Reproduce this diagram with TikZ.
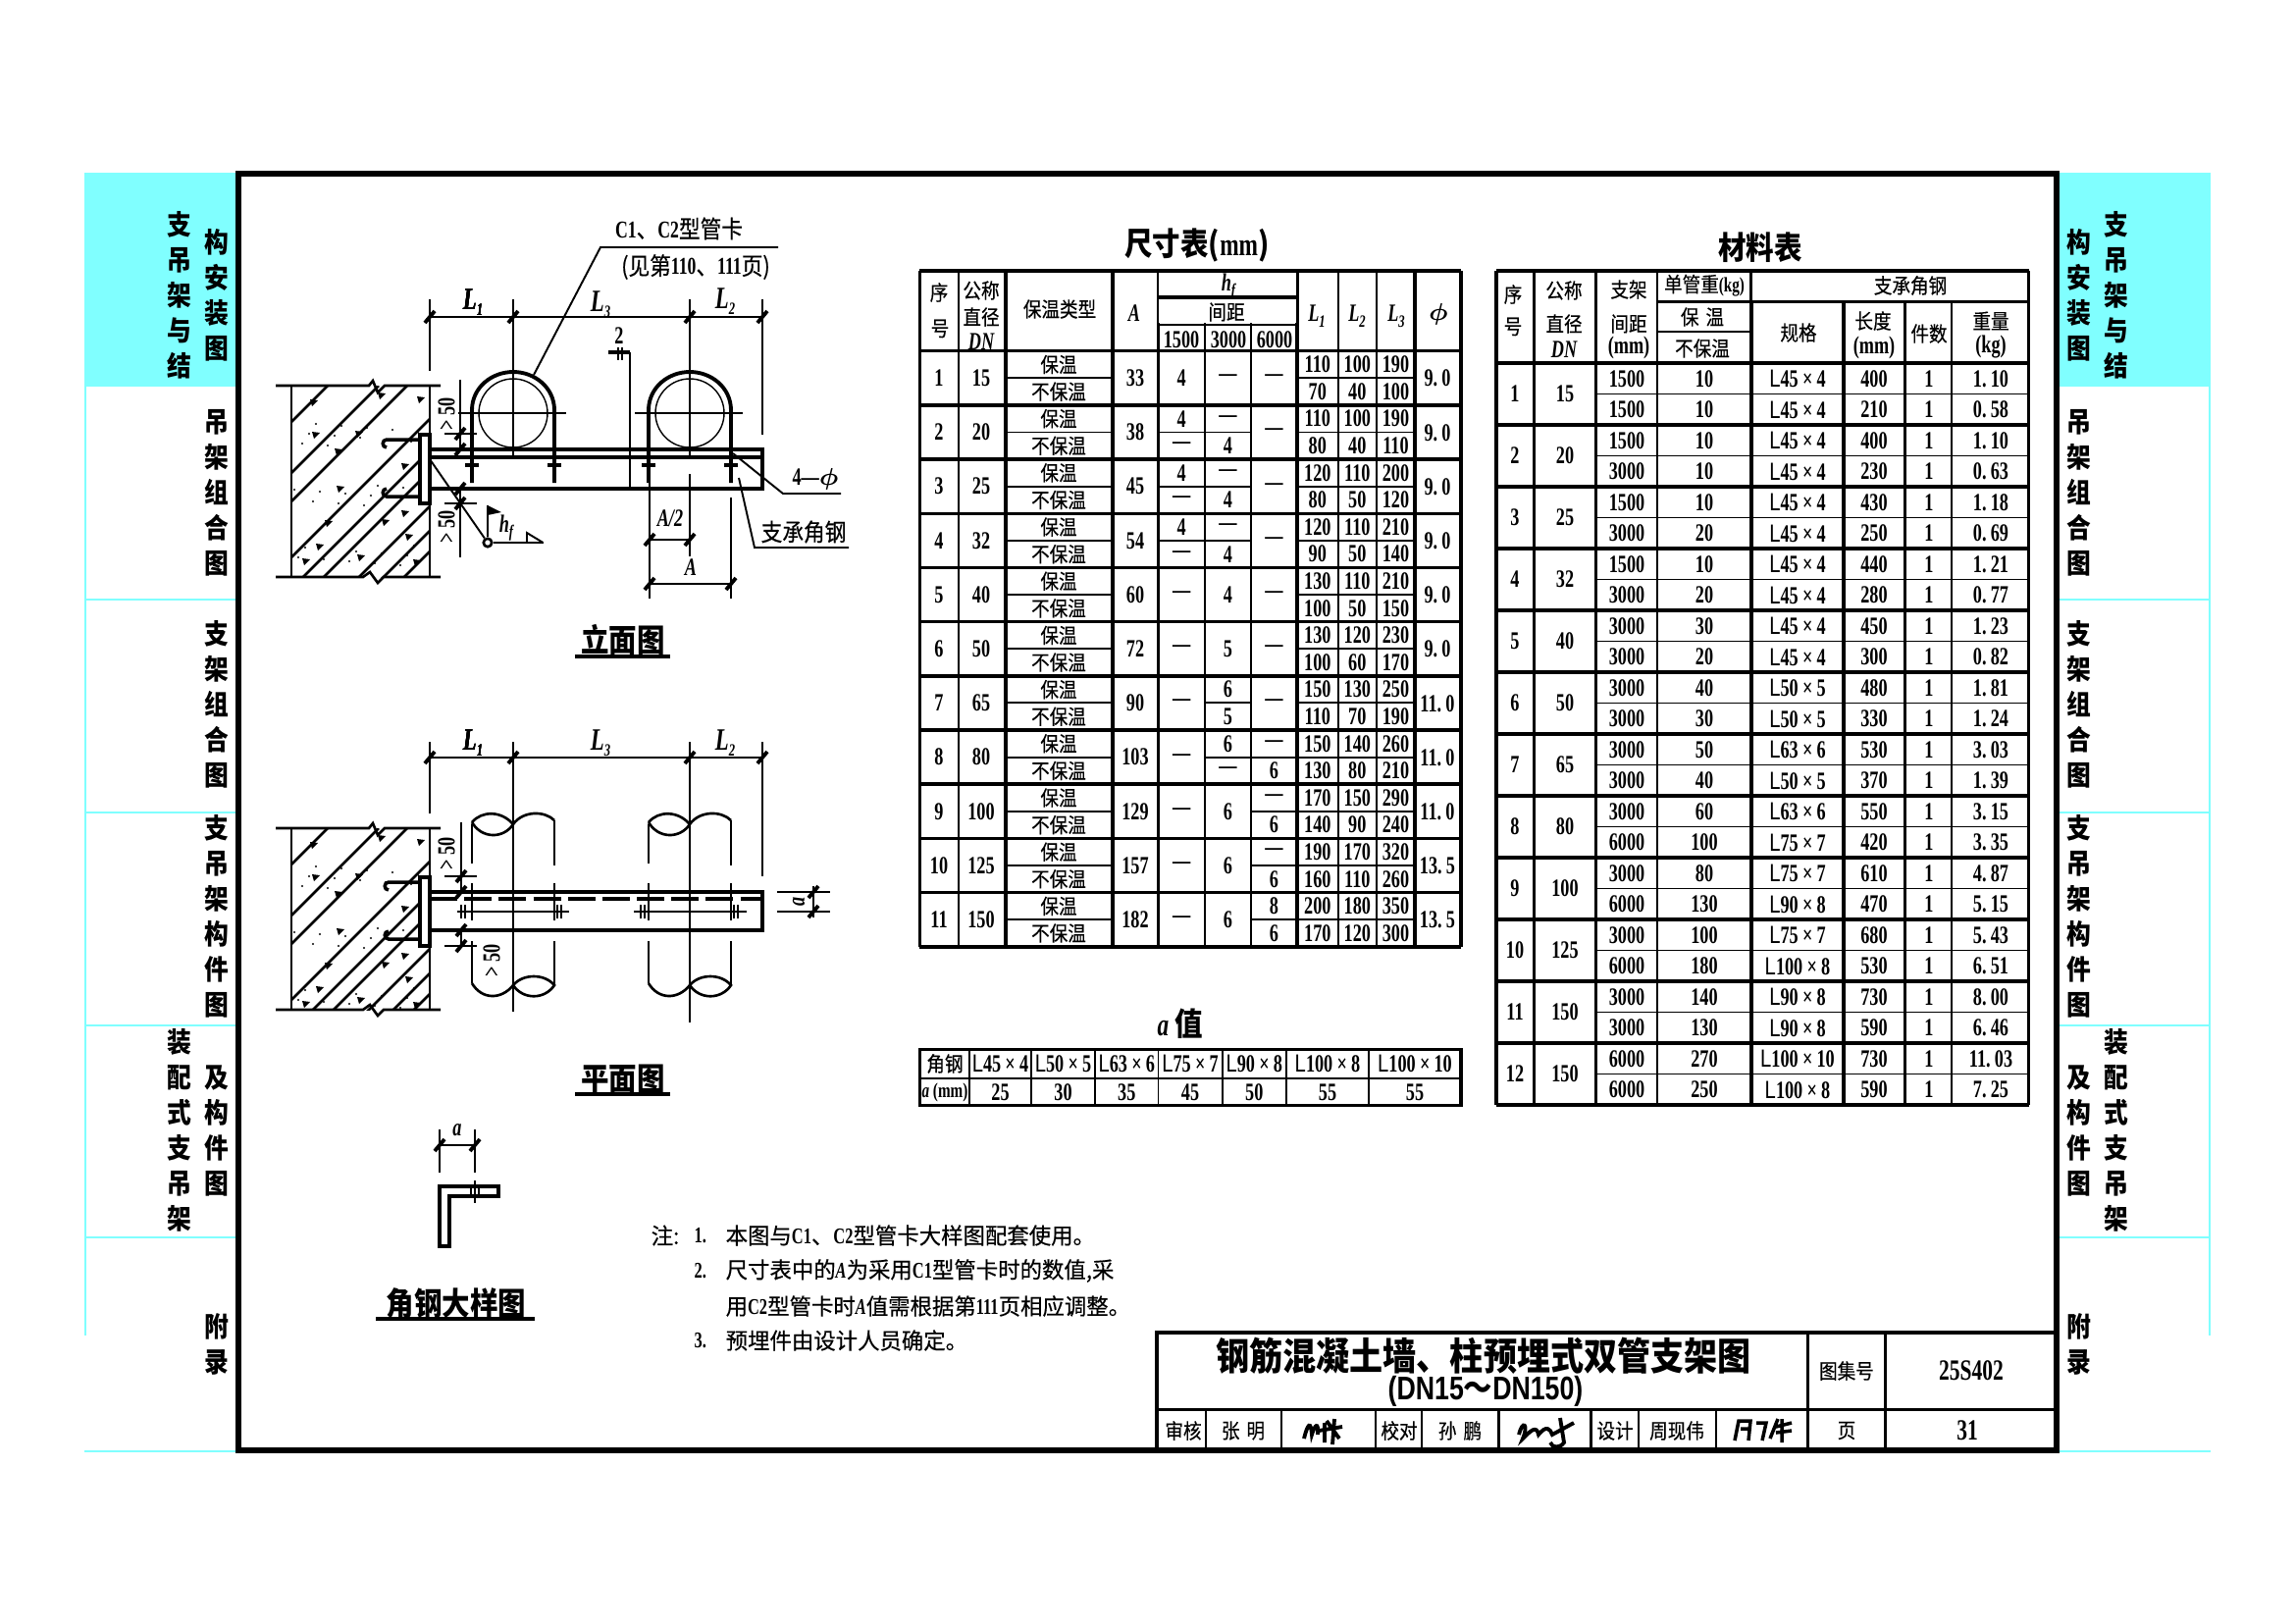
\documentclass[tikz,border=0pt]{standalone}
\usepackage{fontspec}
\newfontfamily\cjkfont[FakeStretch=.88]{Noto Sans CJK SC}
\newfontfamily\cjkmed[FakeStretch=.88,FakeBold=.35]{Noto Sans CJK SC}
\newfontfamily\cjkwide[FakeStretch=.98,FakeBold=.35]{Noto Sans CJK SC}
\newfontfamily\numfont[FakeStretch=.72]{Liberation Serif}
\newfontfamily\sansfont[FakeStretch=.8]{Liberation Sans}
\definecolor{bandcyan}{HTML}{80FFFF}
\newcommand\numtx{\numfont\bfseries\fontsize{7.2}{8}\selectfont}
\newcommand\cjktx{\cjkmed\fontsize{6}{7}\selectfont}
\newcommand\notetx{\cjkwide\fontsize{6.5}{7}\selectfont}
\newcommand\headtx{\cjkfont\bfseries\fontsize{9.2}{10}\selectfont}
\newcommand\sidetx{\cjkfont\bfseries\fontsize{8}{10.24}\selectfont}
\newcommand\nn[1]{{\numfont\bfseries #1}}
\newcommand\tmes{\,×\,}
\newcommand\itl[2]{{\numfont\itshape #1\raisebox{-1.6pt}{\fontsize{5}{5}\selectfont #2}}}
\tikzset{
	numtxt/.style={inner sep=0pt,font=\numtx},
	cjktxt/.style={inner sep=0pt,font=\cjktx},
	notetxt/.style={inner sep=0pt,anchor=west,font=\notetx},
	headtxt/.style={inner sep=0pt,font=\headtx},
	sidetxt/.style={inner sep=0pt,align=center,font=\sidetx},
	thickln/.style={line width=1pt},
	thinln/.style={line width=.55pt},
	medln/.style={line width=.75pt},
	slashln/.style={line width=1.1pt}
}
% tick on a dimension line
\newcommand\dimslash[2]{\draw[slashln] ({#1-5},{#2+6}) -- ({#1+5},{#2-6});}
% cell of a table, one value or split in two
\newcommand\halfcell[5]{%
	\edef\cellb{#5}\def\cellmark{x}%
	\ifx\cellb\cellmark
		\node[numtxt] at ({(#1+#2)/2},{#3+27.6}) {#4};
	\else
		\node[numtxt] at ({(#1+#2)/2},{#3+13.8}) {#4};
		\node[numtxt] at ({(#1+#2)/2},{#3+41.4}) {#5};
		\draw[thinln] (#1,{#3+27.6}) -- (#2,{#3+27.6});
	\fi}
% concrete wall with hatch and aggregate
\newcommand\wallpart[2]{%
	\begin{scope}
		\clip (297,#1) rectangle (438,#2);
		\foreach \c in {37,89,118,175,207,228,264,289,310}
			\draw[medln] (297,{#1+\c}) -- ({297+\c},#1);
		\foreach \dx/\dy in {19/14,21/47,65/46,44/64,112/79,46/102,34/137,25/161,11/176,67/172,124/177,92/136,112/127,116/151,88/7,128/11}
			\fill ({297+\dx},{#1+\dy}) -- ++(8,1) -- ++(-6,6) -- cycle;
		\foreach \i in {1,...,34}
			\fill ({297+mod(\i*37,137)},{#1+mod(\i*61,185)}) circle[radius=1.1];
	\end{scope}
	\draw[medln] (297,#1) -- (297,#2);
	\draw[medln] (438,#1) -- (438,#2);
	\draw[medln] (281,#1) -- (376,#1) -- (380,{#1-5}) -- (385,{#1+7}) -- (392,#1) -- (449,#1);
	\draw[medln] (281,#2) -- (370,#2) -- (377,{#2-5}) -- (385,{#2+6}) -- (391,#2) -- (449,#2);
	\draw[thickln,fill=white] (428,{#1+50}) rectangle (438,{#1+120});
}
% broken ends of a pipe in the plan
\newcommand\pipebreak[1]{%
	\draw[medln] ({#1-42},838) .. controls ({#1-32},826) and ({#1-12},826) .. (#1,840)
		.. controls ({#1-10},855) and ({#1-32},855) .. ({#1-42},838)
		(#1,840) .. controls ({#1+10},826) and ({#1+32},826) .. ({#1+42},836);
	\draw[medln] ({#1-42},1002) .. controls ({#1-32},1019) and ({#1-12},1019) .. (#1,1004)
		.. controls ({#1+10},992) and ({#1+32},992) .. ({#1+42},1004)
		.. controls ({#1+32},1019) and ({#1+10},1019) .. (#1,1004);
	\draw[medln] ({#1-42},840) -- ({#1-42},880) ({#1+42},836) -- ({#1+42},882)
		({#1-42},900) -- ({#1-42},938) ({#1+42},900) -- ({#1+42},938)
		({#1-42},959) -- ({#1-42},1002) ({#1+42},959) -- ({#1+42},1004);
}
\begin{document}
\begin{tikzpicture}[x=0.01cm,y=-0.01cm]
	\useasboundingbox (0,0) rectangle (2339,1654);
	% side bands
	\fill[bandcyan] (86,176) rectangle (241,394);
	\fill[bandcyan] (2098,176) rectangle (2253,394);
	\draw[bandcyan,line width=.8pt] (87,176) -- (87,1361);
	\draw[bandcyan,line width=.8pt] (2252,176) -- (2252,1361);
	\foreach \y in {611,828,1045,1261,1479} {
		\draw[bandcyan,line width=.5pt] (86,\y) -- (241,\y);
		\draw[bandcyan,line width=.5pt] (2098,\y) -- (2253,\y);
	}
	\node[sidetxt] (l1a) at (221,301) {构\\安\\装\\图};
	\node[sidetxt] (l1b) at (183,301) {支\\吊\\架\\与\\结};
	\node[sidetxt] (l2) at (221,502) {吊\\架\\组\\合\\图};
	\node[sidetxt] (l3) at (221,718) {支\\架\\组\\合\\图};
	\node[sidetxt] (l4) at (221,934) {支\\吊\\架\\构\\件\\图};
	\node[sidetxt] (l5a) at (221,1152) {及\\构\\件\\图};
	\node[sidetxt] (l5b) at (183,1152) {装\\配\\式\\支\\吊\\架};
	\node[sidetxt] (l6) at (221,1370) {附\\录};
	\node[sidetxt] (r1a) at (2119,301) {构\\安\\装\\图};
	\node[sidetxt] (r1b) at (2157,301) {支\\吊\\架\\与\\结};
	\node[sidetxt] (r2) at (2119,502) {吊\\架\\组\\合\\图};
	\node[sidetxt] (r3) at (2119,718) {支\\架\\组\\合\\图};
	\node[sidetxt] (r4) at (2119,934) {支\\吊\\架\\构\\件\\图};
	\node[sidetxt] (r5a) at (2119,1152) {及\\构\\件\\图};
	\node[sidetxt] (r5b) at (2157,1152) {装\\配\\式\\支\\吊\\架};
	\node[sidetxt] (r6) at (2119,1370) {附\\录};
	% frame
	\draw[line width=1.5pt] (243,177) rectangle (2096,1478);

	% elevation
	\wallpart{393}{588}
	\draw[thickln] (428,448) -- (394,448) .. controls (389,448) and (389,456) .. (394,456);
	\draw[thickln] (428,506) -- (394,506) .. controls (389,506) and (389,498) .. (394,498);
	\draw[line width=1.3pt] (438,458) rectangle (777,498);
	\draw[line width=1.1pt] (438,466) -- (777,466);
	\foreach \cx in {523,703} {
		\draw[line width=.4pt] (\cx,421) circle[radius=35];
		\draw[line width=1.1pt,fill=none] ({\cx-42},492) -- ({\cx-42},418) .. controls ({\cx-42},395) and ({\cx-22},379) .. (\cx,379) .. controls ({\cx+22},379) and ({\cx+42},395) .. ({\cx+42},418) -- ({\cx+42},492);
		\draw[thinln] ({\cx-56},421) -- ({\cx+54},421);
		\draw[thickln] ({\cx-49},474) -- ({\cx-35},474) ({\cx+35},474) -- ({\cx+49},474);
	}
	\draw[thinln] (438,305) -- (438,378) (523,305) -- (523,468) (703,305) -- (703,468) (703,483) -- (703,567) (777,305) -- (777,443);
	\draw[thinln] (438,323) -- (777,323);
	\foreach \x in {438,523,703,777} \dimslash{\x}{323}
	\node[numtxt,font=\numtx\fontsize{9}{9}\selectfont] (dimla) at (482,308) {\itl{L}{1}};
	\node[numtxt,font=\numtx\fontsize{9}{9}\selectfont] (dimlc) at (612,310) {\itl{L}{3}};
	\node[numtxt,font=\numtx\fontsize{9}{9}\selectfont] (dimlb) at (739,307) {\itl{L}{2}};
	% pipe clamp note
	\draw[thinln] (544,382) -- (612,252) -- (793,252);
	\node[inner sep=0pt,font=\cjkmed\fontsize{7}{7}\selectfont] (clamp) at (692,233) {\nn{C1}、\nn{C2}型管卡};
	\node[inner sep=0pt,font=\cjkmed\fontsize{7}{7}\selectfont] (clampref) at (709,272) {(见第\nn{110}、\nn{111}页)};
	% section mark
	\node[numtxt] (secmark) at (631,342) {2};
	\draw[thickln] (620,359) -- (642,359);
	\draw[thinln] (630,354) -- (630,367) (634,354) -- (634,367);
	\draw[thinln] (642,359) -- (642,498);
	% clear distances
	\draw[thinln] (469,387) -- (469,458) (453,442) -- (486,442);
	\dimslash{469}{442}
	\dimslash{469}{458}
	\node[numtxt,rotate=90] (gapa) at (455,422) {> 50};
	\draw[thinln] (469,498) -- (469,568) (453,513) -- (486,513);
	\dimslash{469}{498}
	\dimslash{469}{513}
	\node[numtxt,rotate=90] (gapb) at (455,537) {> 50};
	% weld symbol
	\coordinate (weldend) at (438,468);
	\node[draw,circle,medln,inner sep=0pt,minimum size=2.4pt] (weld) at (497,553) {};
	\draw[thinln] (weldend) -- (weld);
	\draw[thinln] (weld) -- (553.5,553);
	\draw[thinln] (weld) -- (497,515);
	\fill (497,515) -- (511,522) -- (497,525) -- cycle;
	\draw[thinln] (537,553) -- (537,543) -- (553.5,553);
	\node[numtxt] (weldh) at (516,538) {\itl{h}{f}};
	% A dimensions
	\draw[thinln] (662,483) -- (662,610) (745,507) -- (745,610);
	\draw[thinln] (662,550) -- (703,550);
	\dimslash{662}{550}
	\dimslash{703}{550}
	\draw[thinln] (662,595) -- (745,595);
	\dimslash{662}{595}
	\dimslash{745}{595}
	\node[numtxt] (dimahalf) at (683,528) {\itshape A/2};
	\node[numtxt] (dima) at (704,578) {\itshape A};
	% leaders
	\draw[thinln] (747,462) -- (798,503) -- (857,503);
	\node[numtxt] (holes) at (831,488) {4—{\boldmath\(\phi\)}};
	\draw[thinln] (753,487) -- (769,558) -- (865,558);
	\node[inner sep=0pt,font=\cjkmed\fontsize{7}{7}\selectfont] (anglenote) at (819,542) {支承角钢};
	% title
	\node[headtxt] (elevtitle) at (635,652) {立面图};
	\draw[line width=1pt] (586,669) -- (683,669);

	% plan
	\wallpart{844}{1029}
	\draw[thickln] (428,899) -- (396,899) .. controls (391,899) and (391,907) .. (396,907);
	\draw[thickln] (428,957) -- (396,957) .. controls (391,957) and (391,949) .. (396,949);
	\pipebreak{523}
	\pipebreak{703}
	\draw[line width=1.3pt] (438,909) rectangle (777,948);
	\draw[line width=1.2pt,dash pattern=on 8pt off 2pt] (438,916) -- (777,916);
	\draw[thinln] (438,756) -- (438,829) (777,756) -- (777,893);
	\draw[medln] (523,756) -- (523,1031) (703,756) -- (703,1042);
	\draw[thinln] (438,772) -- (777,772);
	\foreach \x in {438,523,703,777} \dimslash{\x}{772}
	\node[numtxt,font=\numtx\fontsize{9}{9}\selectfont] (plnla) at (482,757) {\itl{L}{1}};
	\node[numtxt,font=\numtx\fontsize{9}{9}\selectfont] (plnlc) at (612,757) {\itl{L}{3}};
	\node[numtxt,font=\numtx\fontsize{9}{9}\selectfont] (plnlb) at (739,757) {\itl{L}{2}};
	\draw[medln] (466,929) -- (580,929) (646,929) -- (761,929);
	\foreach \x in {472,570,655,750} \draw[medln] ({\x-2},922) -- ({\x-2},936) ({\x+2},922) -- ({\x+2},936);
	\draw[thinln] (470,838) -- (470,909) (453,893) -- (486,893);
	\dimslash{470}{893}
	\dimslash{470}{909}
	\node[numtxt,rotate=90] (pgapa) at (455,870) {> 50};
	\draw[thinln] (470,948) -- (470,964) (453,964) -- (486,964);
	\dimslash{470}{948}
	\dimslash{470}{964}
	\node[numtxt,rotate=90] (pgapb) at (501,979) {> 50};
	\draw[thinln] (792,909) -- (846,909) (792,929) -- (846,929) (829,903) -- (829,935);
	\dimslash{829}{909}
	\dimslash{829}{929}
	\node[numtxt,rotate=90] (plana) at (814,919) {\itshape a};
	\node[headtxt] (plantitle) at (635,1100) {平面图};
	\draw[line width=1pt] (586,1115) -- (683,1115);

	% angle detail
	\draw[thinln] (448,1151) -- (448,1195) (484,1151) -- (484,1195) (448,1167) -- (484,1167);
	\dimslash{448}{1167}
	\dimslash{484}{1167}
	\node[numtxt] (deta) at (466,1152) {\itshape a};
	\draw[line width=1.1pt] (448,1270) -- (448,1209) -- (508,1209) -- (508,1219) -- (458,1219) -- (458,1270) -- cycle;
	\draw[thinln] (484,1203) -- (484,1226) (480,1209) -- (480,1219) (488,1209) -- (488,1219);
	\node[headtxt] (dettitle) at (465,1328) {角钢大样图};
	\draw[line width=1pt] (383,1344) -- (545,1344);

	% notes
	\node[notetxt] (notehead) at (663,1259) {注:};
	\node[notetxt] (noten1) at (707,1259) {\nn{1.}};
	\node[notetxt] (note1) at (739,1259) {本图与\nn{C1}、\nn{C2}型管卡大样图配套使用。};
	\node[notetxt] (noten2) at (707,1295) {\nn{2.}};
	\node[notetxt] (note2) at (739,1295) {尺寸表中的\nn{\itshape A}为采用\nn{C1}型管卡时的数值,采};
	\node[notetxt] (note2b) at (739,1331) {用\nn{C2}型管卡时\nn{\itshape A}值需根据第\nn{111}页相应调整。};
	\node[notetxt] (noten3) at (707,1366) {\nn{3.}};
	\node[notetxt] (note3) at (739,1366) {预埋件由设计人员确定。};

	% size table
	\node[headtxt] (sizetitle) at (1220,250) {尺寸表(\nn{mm})};
	\foreach \x in {937.4,1025,1134,1180.5,1322,1442,1489} \draw[thickln] (\x,276) -- (\x,964.8);
	\foreach \x in {977,1228,1275,1363.6,1403} \draw[thinln] (\x,276) -- (\x,964.8);
	\fill[white] (1181,277) rectangle (1321,329);
	\draw[thickln] (937.4,276) -- (1489,276);
	\draw[thickln] (1180.5,303) -- (1322,303);
	\draw[thinln] (1180.5,330.7) -- (1322,330.7);
	\draw[thickln] (937.4,357.7) -- (1489,357.7);
	\node[cjktxt] (shno) at (957,298) {序};
	\node[cjktxt] (shnob) at (958,335) {号};
	\node[cjktxt] (shdn) at (1000,296) {公称};
	\node[cjktxt] (shdnb) at (1000,323) {直径};
	\node[numtxt] (shdnc) at (1000,348) {\itshape DN};
	\node[cjktxt] (shins) at (1080,315) {保温类型};
	\node[numtxt] (sha) at (1156,319) {\itshape A};
	\node[numtxt] (shhf) at (1252,292) {\itl{h}{f}};
	\node[cjktxt] (shsp) at (1250,318) {间距};
	\node[numtxt] (shpa) at (1204,346) {1500};
	\node[numtxt] (shpb) at (1252,346) {3000};
	\node[numtxt] (shpc) at (1299,346) {6000};
	\node[numtxt] (shla) at (1342,322) {\itl{L}{1}};
	\node[numtxt] (shlb) at (1383,322) {\itl{L}{2}};
	\node[numtxt] (shlc) at (1423,322) {\itl{L}{3}};
	\node[numtxt] (shph) at (1466,320) {{\boldmath\(\phi\)}};
	\foreach \n/\dn/\aval/\pa/\pb/\qa/\qb/\wa/\wb/\la/\lb/\lc/\ld/\le/\lf/\ph in {
		1/15/33/4/x/—/x/—/x/110/100/190/70/40/100/9.\,0,
		2/20/38/4/—/—/4/—/x/110/100/190/80/40/110/9.\,0,
		3/25/45/4/—/—/4/—/x/120/110/200/80/50/120/9.\,0,
		4/32/54/4/—/—/4/—/x/120/110/210/90/50/140/9.\,0,
		5/40/60/—/x/4/x/—/x/130/110/210/100/50/150/9.\,0,
		6/50/72/—/x/5/x/—/x/130/120/230/100/60/170/9.\,0,
		7/65/90/—/x/6/5/—/x/150/130/250/110/70/190/11.\,0,
		8/80/103/—/x/6/—/—/6/150/140/260/130/80/210/11.\,0,
		9/100/129/—/x/6/x/—/6/170/150/290/140/90/240/11.\,0,
		10/125/157/—/x/6/x/—/6/190/170/320/160/110/260/13.\,5,
		11/150/182/—/x/6/x/8/6/200/180/350/170/120/300/13.\,5} {
		\pgfmathsetmacro\yt{357.7+(\n-1)*55.19}
		\draw[thickln] (937.4,{\yt+55.19}) -- (1489,{\yt+55.19});
		\node[numtxt] (sz\n-no) at (957,{\yt+27.6}) {\n};
		\node[numtxt] (sz\n-dn) at (1000,{\yt+27.6}) {\dn};
		\node[cjktxt] (sz\n-ia) at (1079,{\yt+13.8}) {保温};
		\node[cjktxt] (sz\n-ib) at (1079,{\yt+41.4}) {不保温};
		\draw[thinln] (1025,{\yt+27.6}) -- (1134,{\yt+27.6});
		\node[numtxt] (sz\n-a) at (1157,{\yt+27.6}) {\aval};
		\halfcell{1180.5}{1228}{\yt}{\pa}{\pb}
		\halfcell{1228}{1275}{\yt}{\qa}{\qb}
		\halfcell{1275}{1322}{\yt}{\wa}{\wb}
		\halfcell{1322}{1363.6}{\yt}{\la}{\ld}
		\halfcell{1363.6}{1403}{\yt}{\lb}{\le}
		\halfcell{1403}{1442}{\yt}{\lc}{\lf}
		\node[numtxt] (sz\n-ph) at (1465,{\yt+28}) {\ph};
	}

	% a table
	\node[headtxt] (atitle) at (1203,1043) {\nn{\itshape a} 值};
	\draw[thickln] (937.4,1069.6) rectangle (1489,1126.4);
	\draw[thinln] (937.4,1099.4) -- (1489,1099.4);
	\foreach \x in {988,1051,1116,1180.5,1245.6,1311,1395} \draw[thinln] (\x,1069.6) -- (\x,1126.4);
	\node[cjktxt] (ahead) at (963,1084) {角钢};
	\node[numtxt,font=\numtx\fontsize{6}{7}\selectfont] (aunit) at (963,1113) {{\itshape a} (mm)};
	\foreach \i/\xa/\xb/\spec/\v in {1/988/1051/45\tmes4/25,2/1051/1116/50\tmes5/30,3/1116/1180.5/63\tmes6/35,4/1180.5/1245.6/75\tmes7/45,5/1245.6/1311/90\tmes8/50,6/1311/1395/100\tmes8/55,7/1395/1489/100\tmes10/55} {
		\node[numtxt] (as\i) at ({(\xa+\xb)/2},1084) {{\sansfont\mdseries L}\spec};
		\node[numtxt] (av\i) at ({(\xa+\xb)/2},1113) {\v};
	}

	% material table
	\node[headtxt] (mattitle) at (1794,252) {材料表};
	\foreach \x in {1524.8,1563.7,1626.5,1785,1879,1941.7,2067.5} \draw[thickln] (\x,276) -- (\x,1126);
	\foreach \x in {1689.4,1989} \draw[thinln] (\x,276) -- (\x,1126);
	\fill[white] (1786,277) rectangle (2066,306);
	\draw[thickln] (1524.8,276) -- (2067.5,276);
	\draw[thickln] (1689.4,307.3) -- (2067.5,307.3);
	\draw[thinln] (1689.4,338) -- (1785,338);
	\draw[thickln] (1524.8,370) -- (2067.5,370);
	\node[cjktxt] (mhno) at (1542,300) {序};
	\node[cjktxt] (mhnob) at (1542,333) {号};
	\node[cjktxt] (mhdn) at (1594,296) {公称};
	\node[cjktxt] (mhdnb) at (1594,330) {直径};
	\node[numtxt] (mhdnc) at (1594,356) {\itshape DN};
	\node[cjktxt] (mhsp) at (1660,295) {支架};
	\node[cjktxt] (mhspb) at (1660,330) {间距};
	\node[numtxt] (mhspc) at (1660,354) {(mm)};
	\node[cjktxt] (mhwt) at (1737,291) {单管重\nn{(kg)}};
	\node[cjktxt] (mhang) at (1947,291) {支承角钢};
	\node[cjktxt] (mhia) at (1735,323) {保\,\,温};
	\node[cjktxt] (mhib) at (1735,355) {不保温};
	\node[cjktxt] (mhspec) at (1833,339) {规格};
	\node[cjktxt] (mhlen) at (1909,327) {长度};
	\node[numtxt] (mhlenb) at (1910,354) {(mm)};
	\node[cjktxt] (mhqty) at (1966,340) {件数};
	\node[cjktxt] (mhkg) at (2029,327) {重量};
	\node[numtxt] (mhkgb) at (2029,354) {(kg)};
	\foreach \n/\dn/\sa/\wa/\ga/\la/\ka/\sb/\wb/\gb/\lb/\kb in {
		1/15/1500/10/45\tmes4/400/1.\,10/1500/10/45\tmes4/210/0.\,58,
		2/20/1500/10/45\tmes4/400/1.\,10/3000/10/45\tmes4/230/0.\,63,
		3/25/1500/10/45\tmes4/430/1.\,18/3000/20/45\tmes4/250/0.\,69,
		4/32/1500/10/45\tmes4/440/1.\,21/3000/20/45\tmes4/280/0.\,77,
		5/40/3000/30/45\tmes4/450/1.\,23/3000/20/45\tmes4/300/0.\,82,
		6/50/3000/40/50\tmes5/480/1.\,81/3000/30/50\tmes5/330/1.\,24,
		7/65/3000/50/63\tmes6/530/3.\,03/3000/40/50\tmes5/370/1.\,39,
		8/80/3000/60/63\tmes6/550/3.\,15/6000/100/75\tmes7/420/3.\,35,
		9/100/3000/80/75\tmes7/610/4.\,87/6000/130/90\tmes8/470/5.\,15,
		10/125/3000/100/75\tmes7/680/5.\,43/6000/180/100\tmes8/530/6.\,51,
		11/150/3000/140/90\tmes8/730/8.\,00/3000/130/90\tmes8/590/6.\,46,
		12/150/6000/270/100\tmes10/730/11.\,03/6000/250/100\tmes8/590/7.\,25} {
		\pgfmathsetmacro\yt{370+(\n-1)*63}
		\draw[thickln] (1524.8,{\yt+63}) -- (2067.5,{\yt+63});
		\draw[thinln] (1626.5,{\yt+31.5}) -- (2067.5,{\yt+31.5});
		\node[numtxt] (mt\n-no) at (1544,{\yt+31.5}) {\n};
		\node[numtxt] (mt\n-dn) at (1595,{\yt+31.5}) {\dn};
		\node[numtxt] (mt\n-sa) at (1658,{\yt+16}) {\sa};
		\node[numtxt] (mt\n-wa) at (1737,{\yt+16}) {\wa};
		\node[numtxt] (mt\n-ga) at (1832,{\yt+16}) {{\sansfont\mdseries L}\ga};
		\node[numtxt] (mt\n-la) at (1910,{\yt+16}) {\la};
		\node[numtxt] (mt\n-qa) at (1966,{\yt+16}) {1};
		\node[numtxt] (mt\n-ka) at (2029,{\yt+16}) {\ka};
		\node[numtxt] (mt\n-sb) at (1658,{\yt+47.5}) {\sb};
		\node[numtxt] (mt\n-wb) at (1737,{\yt+47.5}) {\wb};
		\node[numtxt] (mt\n-gb) at (1832,{\yt+47.5}) {{\sansfont\mdseries L}\gb};
		\node[numtxt] (mt\n-lb) at (1910,{\yt+47.5}) {\lb};
		\node[numtxt] (mt\n-qb) at (1966,{\yt+47.5}) {1};
		\node[numtxt] (mt\n-kb) at (2029,{\yt+47.5}) {\kb};
	}

	% title block
	\draw[thickln] (1179,1478) -- (1179,1358) -- (2096,1358);
	\draw[medln] (1179,1436.7) -- (2096,1436.7);
	\foreach \x in {1842.7,1921.5} \draw[medln] (\x,1358) -- (\x,1478);
	\foreach \x in {1229,1306,1402,1449,1527.6,1621.5,1670,1749} \draw[medln] (\x,1436.7) -- (\x,1478);
	\node[inner sep=0pt,font=\cjkfont\bfseries\fontsize{11}{11}\selectfont] (tbtitle) at (1512,1382) {钢筋混凝土墙、柱预埋式双管支架图};
	\node[inner sep=0pt,font=\sansfont\bfseries\fontsize{9.5}{10}\selectfont] (tbsub) at (1514,1418) {(DN15{\cjkfont ～}DN150)};
	\node[cjktxt] (tbset) at (1882,1397) {图集号};
	\node[numtxt,font=\numtx\fontsize{8.5}{9}\selectfont] (tbnum) at (2009,1397) {25S402};
	\node[cjktxt] (tbpg) at (1882,1458) {页};
	\node[numtxt,font=\numtx\fontsize{8.5}{9}\selectfont] (tbpgn) at (2005,1458) {31};
	\node[cjktxt] (tbrev) at (1206,1458) {审核};
	\node[cjktxt] (tbreva) at (1267,1458) {张\,\,明};
	\node[cjktxt] (tbchk) at (1426,1458) {校对};
	\node[cjktxt] (tbchka) at (1488,1458) {孙\,\,鹏};
	\node[cjktxt] (tbdes) at (1646,1458) {设计};
	\node[cjktxt] (tbdesa) at (1709,1458) {周现伟};
	% signatures
	\draw[line width=1.1pt] (1329,1466) .. controls (1333,1450) and (1336,1448) .. (1337,1462) .. controls (1340,1452) and (1344,1448) .. (1343,1462) (1350,1450) -- (1350,1470) (1344,1458) -- (1368,1454) (1352,1448) -- (1365,1466) (1360,1446) -- (1358,1472);
	\draw[line width=1.1pt] (1548,1462) .. controls (1552,1446) and (1558,1452) .. (1552,1466) .. controls (1560,1458) and (1566,1452) .. (1568,1462) .. controls (1576,1452) and (1580,1456) .. (1582,1462) -- (1604,1450) (1590,1445) -- (1594,1470) .. controls (1590,1476) and (1582,1476) .. (1580,1470);
	\draw[line width=1pt] (1768,1468) -- (1772,1448) -- (1784,1448) -- (1782,1468) (1774,1456) -- (1782,1456) (1790,1450) -- (1800,1450) -- (1796,1468) (1804,1466) -- (1812,1446) (1810,1454) -- (1826,1450) (1816,1446) -- (1816,1470) (1810,1460) -- (1826,1458);
\end{tikzpicture}
\end{document}
